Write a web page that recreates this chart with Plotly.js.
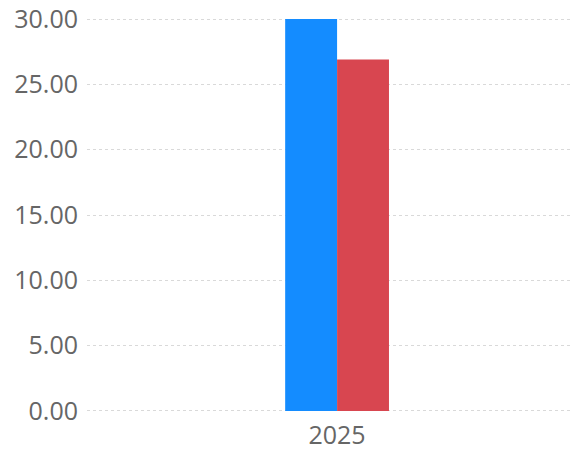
<!DOCTYPE html>
<html>
<head>
<meta charset="utf-8">
<script src="https://cdn.plot.ly/plotly-3.0.1.min.js"></script>
<style>
  html, body { margin: 0; padding: 0; background: #fff; }
  #chart { width: 573px; height: 451px; }
</style>
</head>
<body>
<div id="chart"></div>
<script>
const categories = ['2025'];
const seriesA = [30.0];
const seriesB = [26.9];
const colorA = '#148cff';
const colorB = '#d84650';

const data = [
  {x: categories, y: seriesA, type: 'bar', marker: {color: colorA}, hoverinfo: 'none'},
  {x: categories, y: seriesB, type: 'bar', marker: {color: colorB}, hoverinfo: 'none'}
];

const font = {family: '"Open Sans", sans-serif', size: 25, color: '#666'};

const layout = {
  width: 573,
  height: 451,
  margin: {l: 87, r: 0, t: 18, b: 39},
  showlegend: false,
  barmode: 'group',
  bargap: 0.78,
  bargroupgap: 0,
  paper_bgcolor: '#fff',
  plot_bgcolor: '#fff',
  font: font,
  xaxis: {
    type: 'category',
    range: [-0.53, 0.5],
    showgrid: false,
    zeroline: false,
    showline: false,
    ticks: '',
    ticklabelstandoff: 6,
    tickfont: font
  },
  yaxis: {
    range: [-0.08, 30.08],
    tickvals: [0, 5, 10, 15, 20, 25, 30],
    tickformat: '.2f',
    showgrid: true,
    gridcolor: '#d9d9d9',
    griddash: 'dot',
    gridwidth: 1,
    zeroline: false,
    showline: false,
    ticks: '',
    ticklabelstandoff: 8,
    tickfont: font
  }
};

Plotly.newPlot('chart', data, layout, {staticPlot: true, displayModeBar: false});
</script>
</body>
</html>
